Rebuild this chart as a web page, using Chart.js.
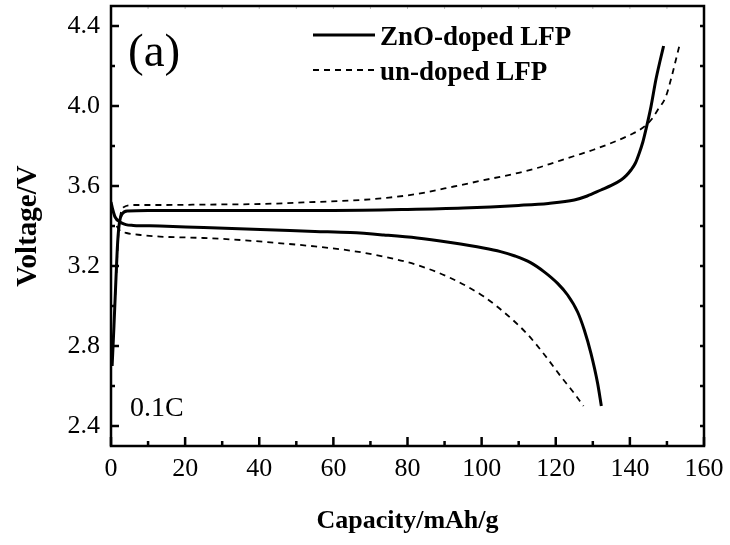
<!DOCTYPE html>
<html lang="en">
<head>
    <meta charset="UTF-8">
    <script src="https://cdn.jsdelivr.net/npm/chart.js"></script>
    <title>Charge / discharge curves</title>
    <style>
        html, body { margin: 0; padding: 0; background: #fff; }
        #wrap { width: 730px; height: 545px; }
    </style>
</head>
<body>
    <div id="wrap">
        <canvas id="vChart" width="730" height="545"></canvas>
    </div>

    <script>
    // ZnO-doped LFP, charge (upper solid)
    const znoChargeCap = [0.3, 0.8, 1.3, 1.8, 2.3, 3.0, 4.5, 10, 20, 40, 60, 80, 95, 110, 118, 125, 128.5, 132.2, 135, 137.6, 139, 140.3, 141.5, 142.5, 143.5, 144.3, 145.7, 147, 148.2, 149.1];
    const znoChargeV   = [2.70, 2.90, 3.12, 3.32, 3.42, 3.46, 3.475, 3.478, 3.478, 3.478, 3.478, 3.483, 3.49, 3.503, 3.513, 3.53, 3.55, 3.58, 3.603, 3.63, 3.652, 3.68, 3.715, 3.763, 3.82, 3.88, 3.997, 4.13, 4.23, 4.30];

    // ZnO-doped LFP, discharge (lower solid)
    const znoDischCap = [0, 0.5, 1.1, 2.4, 4, 6, 13.2, 25, 40.3, 55, 64.6, 73.6, 82.6, 91.6, 100.5, 105.1, 109, 113.2, 116.8, 120.5, 123.2, 125.9, 127.7, 129.5, 131.3, 132.3];
    const znoDischV   = [3.52, 3.48, 3.445, 3.42, 3.407, 3.403, 3.40, 3.392, 3.383, 3.373, 3.367, 3.355, 3.34, 3.317, 3.29, 3.272, 3.25, 3.217, 3.172, 3.113, 3.055, 2.97, 2.88, 2.763, 2.613, 2.50];

    // un-doped LFP, charge (upper dashed)
    const unChargeCap = [1.0, 1.5, 2.0, 2.6, 3.5, 6, 13.2, 25, 40.3, 55, 67.3, 75, 80, 85, 90, 95, 100, 105, 110, 115, 120, 125, 130, 135, 140, 143, 145.7, 147.5, 149.7, 151.5, 152.4, 153.3];
    const unChargeV   = [3.00, 3.18, 3.36, 3.46, 3.495, 3.505, 3.505, 3.507, 3.51, 3.52, 3.53, 3.542, 3.553, 3.568, 3.588, 3.607, 3.627, 3.646, 3.666, 3.69, 3.72, 3.75, 3.78, 3.815, 3.855, 3.885, 3.93, 3.98, 4.047, 4.163, 4.23, 4.297];

    // un-doped LFP, discharge (lower dashed)
    const unDischCap = [1.5, 2.5, 4.2, 8, 13.2, 25, 34.9, 45, 55, 64.6, 73.6, 82.6, 91.6, 100.6, 106.9, 112.3, 116.8, 121.4, 124.5, 127.5];
    const unDischV   = [3.40, 3.375, 3.365, 3.355, 3.347, 3.34, 3.33, 3.315, 3.298, 3.277, 3.247, 3.205, 3.14, 3.047, 2.955, 2.86, 2.76, 2.647, 2.575, 2.50];

    const xTicks  = [0, 10, 20, 30, 40, 50, 60, 70, 80, 90, 100, 110, 120, 130, 140, 150, 160];
    const xLabels = [0, 20, 40, 60, 80, 100, 120, 140, 160];
    const yTicks  = [2.4, 2.6, 2.8, 3.0, 3.2, 3.4, 3.6, 3.8, 4.0, 4.2, 4.4];
    const yLabels = [2.4, 2.8, 3.2, 3.6, 4.0, 4.4];

    const SERIF = '"Liberation Serif", "Times New Roman", serif';

    function pts(xs, ys) {
        return xs.map((x, i) => ({x: x, y: ys[i]}));
    }
    function isLabel(list, v) {
        return list.some(l => Math.abs(l - v) < 1e-6);
    }

    // inward ticks on all four sides plus the box
    const frame = {
        id: 'frame',
        afterDraw(chart) {
            const {ctx, chartArea: a, scales: {x, y}} = chart;
            ctx.save();
            ctx.strokeStyle = '#000';
            ctx.lineWidth = 2.5;
            ctx.beginPath();
            xTicks.forEach(v => {
                const px = x.getPixelForValue(v);
                const big = isLabel(xLabels, v);
                ctx.moveTo(px, a.bottom);
                ctx.lineTo(px, a.bottom - (big ? 9 : 5));
            });
            yTicks.forEach(v => {
                const py = y.getPixelForValue(v);
                const big = isLabel(yLabels, v);
                ctx.moveTo(a.left, py);
                ctx.lineTo(a.left + (big ? 8 : 4), py);
                ctx.moveTo(a.right, py);
                ctx.lineTo(a.right - 4, py);
            });
            ctx.stroke();
            ctx.lineWidth = 1;
            ctx.strokeStyle = '#bbb';
            ctx.beginPath();
            xTicks.forEach(v => {
                const px = x.getPixelForValue(v);
                ctx.moveTo(px, a.top);
                ctx.lineTo(px, a.top + 3);
            });
            ctx.stroke();
            ctx.strokeStyle = '#000';
            ctx.lineWidth = 2.5;
            ctx.strokeRect(a.left, a.top, a.right - a.left, a.bottom - a.top);

            // annotations
            ctx.fillStyle = '#000';
            ctx.textBaseline = 'alphabetic';
            ctx.font = '47px ' + SERIF;
            ctx.fillText('(a)', 128, 66);
            ctx.font = '28px ' + SERIF;
            ctx.fillText('0.1C', 130, 416);

            // legend
            const items = [chart.data.datasets[0], chart.data.datasets[2]];
            const rows = [35, 70];
            ctx.font = 'bold 27px ' + SERIF;
            items.forEach((ds, i) => {
                ctx.beginPath();
                ctx.lineWidth = ds.borderWidth;
                ctx.setLineDash(ds.borderDash || []);
                ctx.moveTo(313, rows[i]);
                ctx.lineTo(375, rows[i]);
                ctx.stroke();
                ctx.setLineDash([]);
                ctx.fillText(ds.label, 380, rows[i] + 10);
            });
            ctx.restore();
        }
    };

    const solid = {borderColor: '#000', borderWidth: 3, pointRadius: 0, cubicInterpolationMode: 'monotone', fill: false};
    const dashed = {borderColor: '#000', borderWidth: 1.8, borderDash: [6, 5], pointRadius: 0, cubicInterpolationMode: 'monotone', fill: false};

    new Chart(document.getElementById('vChart'), {
        type: 'line',
        data: {
            datasets: [
                Object.assign({label: 'ZnO-doped LFP', data: pts(znoChargeCap, znoChargeV)}, solid),
                Object.assign({label: 'ZnO-doped LFP', data: pts(znoDischCap, znoDischV)}, solid),
                Object.assign({label: 'un-doped LFP', data: pts(unChargeCap, unChargeV)}, dashed),
                Object.assign({label: 'un-doped LFP', data: pts(unDischCap, unDischV)}, dashed)
            ]
        },
        options: {
            responsive: false,
            animation: false,
            events: [],
            layout: {padding: {top: 6, right: 26, left: 0, bottom: 0}},
            plugins: {legend: {display: false}, tooltip: {enabled: false}},
            scales: {
                x: {
                    type: 'linear',
                    min: 0,
                    max: 160,
                    border: {display: false},
                    grid: {display: false, drawTicks: false},
                    afterBuildTicks: s => { s.ticks = xTicks.map(v => ({value: v})); },
                    afterFit: s => { s.height = 99; s.paddingLeft = 0; s.paddingRight = 0; },
                    ticks: {
                        autoSkip: false,
                        maxRotation: 0,
                        padding: 8,
                        color: '#000',
                        font: {family: SERIF, size: 26},
                        callback: v => isLabel(xLabels, v) ? String(v) : ''
                    },
                    title: {
                        display: true,
                        text: 'Capacity/mAh/g',
                        color: '#000',
                        padding: {top: 0, bottom: 8},
                        font: {family: SERIF, size: 26, weight: 'bold', lineHeight: 1.2}
                    }
                },
                y: {
                    type: 'linear',
                    min: 2.3,
                    max: 4.5,
                    border: {display: false},
                    grid: {display: false, drawTicks: false},
                    afterBuildTicks: s => { s.ticks = yTicks.map(v => ({value: v})); },
                    afterFit: s => { s.width = 111; s.paddingTop = 0; s.paddingBottom = 0; },
                    ticks: {
                        autoSkip: false,
                        padding: 11,
                        color: '#000',
                        font: {family: SERIF, size: 26},
                        callback: v => isLabel(yLabels, v) ? v.toFixed(1) : ''
                    },
                    title: {
                        display: true,
                        text: 'Voltage/V',
                        color: '#000',
                        padding: {top: 11, bottom: 0},
                        font: {family: SERIF, size: 29, weight: 'bold', lineHeight: 1.2}
                    }
                }
            }
        },
        plugins: [frame]
    });
    </script>
</body>
</html>
